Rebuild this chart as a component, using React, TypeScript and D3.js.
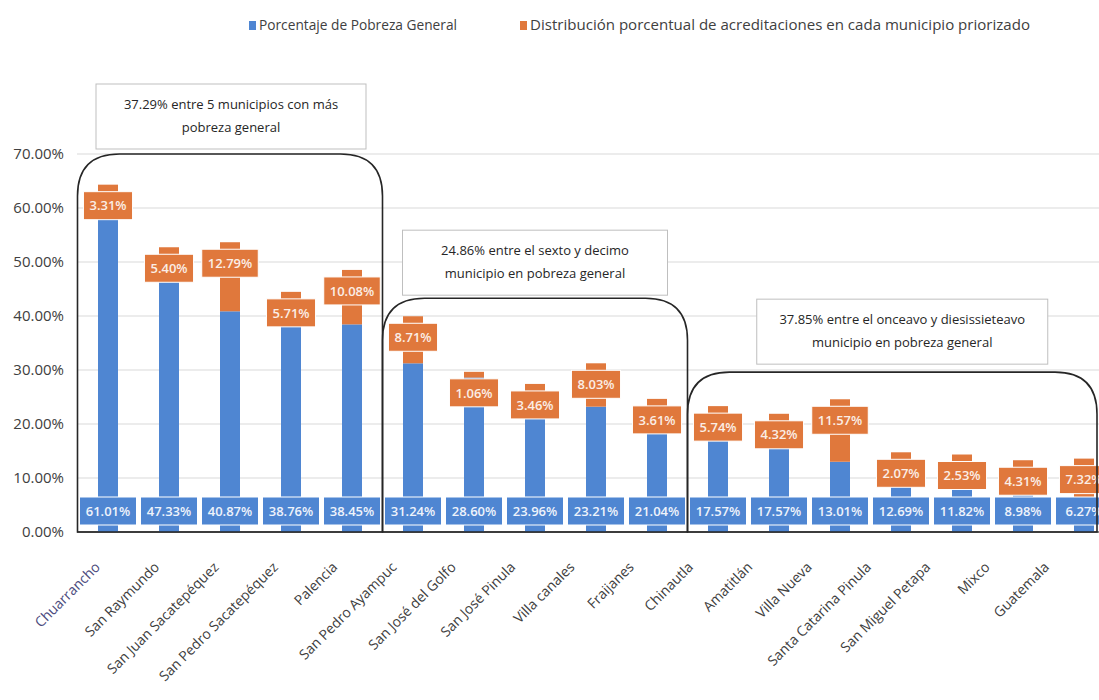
import * as React from "react";
import * as d3 from "d3";

const municipios = [
  "Chuarrancho",
  "San Raymundo",
  "San Juan Sacatepéquez",
  "San Pedro Sacatepéquez",
  "Palencia",
  "San Pedro Ayampuc",
  "San José del Golfo",
  "San José Pinula",
  "Villa canales",
  "Fraijanes",
  "Chinautla",
  "Amatitlán",
  "Villa Nueva",
  "Santa Catarina Pinula",
  "San Miguel Petapa",
  "Mixco",
  "Guatemala"
];

// Porcentaje de Pobreza General
const pobrezaGeneral = [
  61.01, 47.33, 40.87, 38.76, 38.45, 31.24, 28.6, 23.96, 23.21, 21.04, 17.57,
  17.57, 13.01, 12.69, 11.82, 8.98, 6.27
];

// Distribución porcentual de acreditaciones
const acreditaciones = [
  3.31, 5.4, 12.79, 5.71, 10.08, 8.71, 1.06, 3.46, 8.03, 3.61, 5.74, 4.32,
  11.57, 2.07, 2.53, 4.31, 7.32
];

const yTicks = [0, 10, 20, 30, 40, 50, 60, 70];

const seriesNames = [
  "Porcentaje de Pobreza General",
  "Distribución porcentual de acreditaciones en cada municipio priorizado"
];

// groups of municipios marked with a rounded frame + callout
const grupos = [
  { first: 0, last: 4, top: 70, lines: ["37.29% entre 5 municipios con más", "pobreza general"] },
  { first: 5, last: 9, top: 43.3, lines: ["24.86% entre el sexto y decimo", "municipio en pobreza general"] },
  { first: 10, last: 16, top: 29.6, lines: ["37.85% entre el onceavo y diesissieteavo", "municipio en pobreza general"] }
];

// callout box layout (px)
const calloutLayout = [
  { w: 270, dx: 1, gap: 5 },
  { w: 265, dx: 0, gap: 3 },
  { w: 291, dx: 10, gap: 8 }
];

const W = 1099;
const H = 700;
const BLUE = "#4f86d2";
const ORANGE = "#e0783c";
const FONT = "'Open Sans', sans-serif";

function measure(text: string, font: string) {
  const ctx = document.createElement("canvas").getContext("2d");
  if (!ctx) return text.length * 7;
  ctx.font = font;
  return ctx.measureText(text).width;
}

export default function App() {
  const x = d3
    .scaleBand<string>()
    .domain(municipios)
    .range([77.5, 77.5 + municipios.length * 61])
    .padding(0);

  const labelX = d3.scalePoint<string>().domain(municipios).range([101, 1050]);

  const y = d3.scaleLinear().domain([0, 70]).range([532, 154]);

  const step = x.step();
  const barW = 20;
  const boxH = 28;
  const blueBoxTop = y(0) - 7 - boxH;
  const labelFont = `600 13px ${FONT}`;

  const fmt = (v: number) => v.toFixed(2) + "%";

  const frame = (g: (typeof grupos)[0]) => {
    const x0 = x(municipios[g.first]) as number;
    const x1 = Math.min((x(municipios[g.last]) as number) + step, W - 2);
    const top = y(g.top);
    const bottom = y(0);
    const r = 42;
    return `M${x0},${bottom} L${x0},${top + r} Q${x0},${top} ${x0 + r},${top} L${x1 - r},${top} Q${x1},${top} ${x1},${top + r} L${x1},${bottom} Z`;
  };

  return (
    <svg
      width={W}
      height={H}
      style={{ position: "absolute", left: 0, top: 0, background: "#fff" }}
      fontFamily={FONT}
    >
      {/* legend */}
      <g>
        <rect x={249} y={21} width={7} height={9} fill={BLUE} />
        <text x={259} y={30} fontSize={14} fill="#404040" textLength={198} lengthAdjust="spacingAndGlyphs">
          {seriesNames[0]}
        </text>
        <rect x={520} y={21} width={7} height={9} fill={ORANGE} />
        <text x={530} y={30} fontSize={14} fill="#404040" textLength={500} lengthAdjust="spacingAndGlyphs">
          {seriesNames[1]}
        </text>
      </g>

      {/* grid + y axis */}
      <g>
        {yTicks.map(t => (
          <g key={t}>
            <line
              x1={77}
              x2={W}
              y1={y(t)}
              y2={y(t)}
              stroke={t === 0 ? "#595959" : "#d9d9d9"}
              strokeWidth={t === 0 ? 1.5 : 1}
            />
            <text x={64} y={y(t)} dy="0.35em" textAnchor="end" fontSize={15} fill="#404040">
              {t.toFixed(2) + "%"}
            </text>
          </g>
        ))}
      </g>

      {/* stacked bars */}
      <g>
        {municipios.map((m, i) => {
          const cx = (x(m) as number) + step / 2;
          const a = pobrezaGeneral[i];
          const b = acreditaciones[i];
          return (
            <g key={m}>
              <rect x={cx - barW / 2} y={y(a)} width={barW} height={y(0) - y(a)} fill={BLUE} />
              <rect x={cx - barW / 2} y={y(a + b)} width={barW} height={y(a) - y(a + b)} fill={ORANGE} />
            </g>
          );
        })}
      </g>

      {/* data labels */}
      <g fontSize={13} fontWeight={600}>
        {municipios.map((m, i) => {
          const cx = (x(m) as number) + step / 2;
          const a = pobrezaGeneral[i];
          const b = acreditaciones[i];
          const oText = fmt(b);
          const oW = measure(oText, labelFont) + 12;
          const oTop = Math.min(y(a + b) + 7, blueBoxTop - boxH + 1);
          const bW = step - 4;
          return (
            <g key={m}>
              <rect
                x={cx - bW / 2}
                y={blueBoxTop}
                width={bW}
                height={boxH}
                fill={BLUE}
                stroke="#fff"
                strokeWidth={1}
              />
              <text x={cx} y={blueBoxTop + boxH / 2} dy="0.36em" textAnchor="middle" fill="#eef3fb">
                {fmt(a)}
              </text>
              <rect
                x={cx - oW / 2}
                y={oTop}
                width={oW}
                height={boxH}
                fill={ORANGE}
                stroke="#fff"
                strokeWidth={1}
              />
              <text x={cx} y={oTop + boxH / 2} dy="0.36em" textAnchor="middle" fill="#fbeee6">
                {oText}
              </text>
            </g>
          );
        })}
      </g>

      {/* group frames and callouts */}
      <g>
        {grupos.map((g, k) => {
          const lay = calloutLayout[k];
          const x0 = x(municipios[g.first]) as number;
          const x1 = Math.min((x(municipios[g.last]) as number) + step, W - 2);
          const cx = (x0 + x1) / 2 + lay.dx;
          const bottom = y(g.top) - lay.gap;
          const top = bottom - 65;
          return (
            <g key={k}>
              <path d={frame(g)} fill="none" stroke="#262626" strokeWidth={1.6} />
              <rect
                x={cx - lay.w / 2}
                y={top}
                width={lay.w}
                height={65}
                fill="#fff"
                stroke="#bfbfbf"
                strokeWidth={1}
              />
              {g.lines.map((l, j) => (
                <text
                  key={j}
                  x={cx}
                  y={top + 20 + j * 23}
                  dy="0.35em"
                  textAnchor="middle"
                  fontSize={13}
                  fill="#262626"
                >
                  {l}
                </text>
              ))}
            </g>
          );
        })}
      </g>

      {/* category labels */}
      <g fontSize={14} fill="#404040">
        {municipios.map((m, i) => (
          <text
            key={m}
            textAnchor="end"
            fill={i === 0 ? "#4b4b7d" : "#404040"}
            transform={`translate(${labelX(m) as number},${568}) rotate(-45)`}
          >
            {m}
          </text>
        ))}
      </g>
    </svg>
  );
}
